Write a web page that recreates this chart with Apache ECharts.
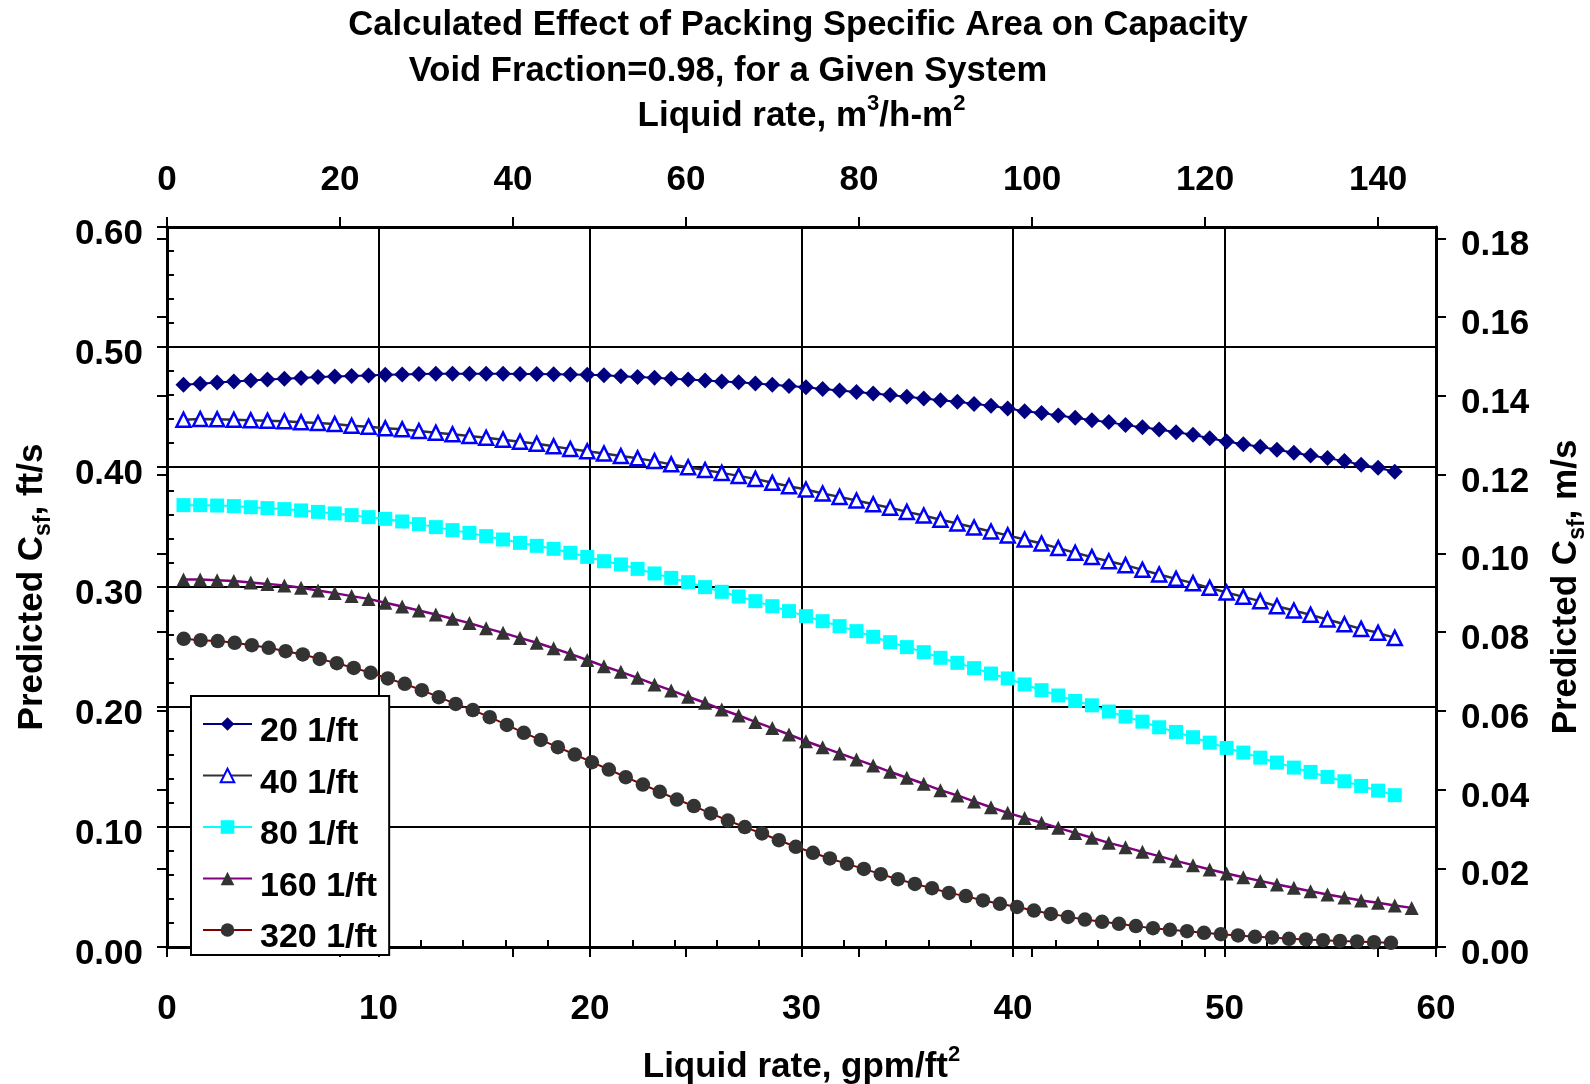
<!DOCTYPE html>
<html><head><meta charset="utf-8">
<script src="https://cdn.jsdelivr.net/npm/echarts@6/dist/echarts.min.js"></script>
<style>html,body{margin:0;padding:0;background:#fff}#c{width:1590px;height:1084px}</style>
</head><body><div id="c"></div>
<script>
const seriesNames = ['20 1/ft', '40 1/ft', '80 1/ft', '160 1/ft', '320 1/ft'];
const xGpm = [0.78,1.57,2.37,3.16,3.96,4.75,5.55,6.34,7.14,7.93,
  8.73,9.53,10.32,11.12,11.91,12.71,13.50,14.30,15.09,15.89,
  16.69,17.48,18.28,19.07,19.87,20.66,21.46,22.25,23.05,23.84,
  24.64,25.44,26.23,27.03,27.82,28.62,29.41,30.21,31.00,31.80,
  32.60,33.39,34.19,34.98,35.78,36.57,37.37,38.16,38.96,39.75,
  40.55,41.35,42.14,42.94,43.73,44.53,45.32,46.12,46.91,47.71,
  48.51,49.30,50.10,50.89,51.69,52.48,53.28,54.07,54.87,55.67,
  56.46,57.26,58.05,58.85];
const xGpm320 = [0.79,1.59,2.40,3.20,4.01,4.81,5.61,6.42,7.22,8.03,
  8.83,9.63,10.44,11.24,12.05,12.85,13.65,14.46,15.26,16.07,
  16.87,17.67,18.48,19.28,20.09,20.89,21.69,22.50,23.30,24.11,
  24.91,25.71,26.52,27.32,28.13,28.93,29.73,30.54,31.34,32.15,
  32.95,33.75,34.56,35.36,36.17,36.97,37.77,38.58,39.38,40.19,
  40.99,41.79,42.60,43.40,44.21,45.01,45.81,46.62,47.42,48.23,
  49.03,49.83,50.64,51.44,52.25,53.05,53.85,54.66,55.46,56.27,
  57.07,57.87];
const y20 = [0.4686,0.4694,0.4705,0.4713,0.4721,0.4730,0.4736,0.4742,0.4749,0.4755,
  0.4758,0.4762,0.4768,0.4771,0.4774,0.4777,0.4778,0.4778,0.4778,0.4777,
  0.4776,0.4774,0.4772,0.4770,0.4768,0.4765,0.4757,0.4751,0.4743,0.4735,
  0.4729,0.4721,0.4713,0.4707,0.4696,0.4685,0.4674,0.4665,0.4651,0.4638,
  0.4626,0.4613,0.4599,0.4585,0.4571,0.4557,0.4543,0.4526,0.4510,0.4488,
  0.4465,0.4451,0.4429,0.4410,0.4390,0.4374,0.4349,0.4332,0.4313,0.4290,
  0.4268,0.4240,0.4213,0.4190,0.4168,0.4143,0.4118,0.4096,0.4074,0.4049,
  0.4018,0.3993,0.3960];
const y40 = [0.4394,0.4400,0.4397,0.4394,0.4389,0.4386,0.4381,0.4372,0.4367,0.4358,
  0.4344,0.4336,0.4322,0.4314,0.4300,0.4286,0.4272,0.4258,0.4244,0.4228,
  0.4211,0.4194,0.4172,0.4150,0.4131,0.4112,0.4091,0.4072,0.4049,0.4022,
  0.3998,0.3975,0.3951,0.3926,0.3901,0.3868,0.3840,0.3813,0.3779,0.3751,
  0.3721,0.3690,0.3660,0.3626,0.3596,0.3560,0.3529,0.3496,0.3463,0.3430,
  0.3396,0.3363,0.3324,0.3285,0.3249,0.3215,0.3182,0.3143,0.3104,0.3068,
  0.3032,0.2993,0.2954,0.2918,0.2882,0.2840,0.2804,0.2768,0.2729,0.2690,
  0.2651,0.2618,0.2576];
const y80 = [0.3682,0.3682,0.3679,0.3674,0.3665,0.3657,0.3649,0.3638,0.3626,0.3613,
  0.3599,0.3582,0.3568,0.3546,0.3524,0.3499,0.3474,0.3451,0.3424,0.3396,
  0.3368,0.3343,0.3318,0.3285,0.3251,0.3215,0.3188,0.3151,0.3113,0.3076,
  0.3040,0.2999,0.2960,0.2921,0.2882,0.2840,0.2799,0.2757,0.2715,0.2674,
  0.2632,0.2585,0.2540,0.2499,0.2457,0.2410,0.2368,0.2324,0.2279,0.2238,
  0.2188,0.2140,0.2096,0.2050,0.2014,0.1962,0.1920,0.1878,0.1831,0.1792,
  0.1748,0.1703,0.1659,0.1620,0.1578,0.1537,0.1495,0.1459,0.1417,0.1381,
  0.1342,0.1303,0.1265];
const y160 = [0.3063,0.3063,0.3057,0.3049,0.3038,0.3026,0.3013,0.2993,0.2971,0.2949,
  0.2924,0.2901,0.2868,0.2838,0.2804,0.2771,0.2735,0.2699,0.2657,0.2618,
  0.2576,0.2535,0.2490,0.2443,0.2392,0.2340,0.2293,0.2243,0.2188,0.2138,
  0.2085,0.2035,0.1979,0.1929,0.1876,0.1824,0.1771,0.1715,0.1665,0.1613,
  0.1563,0.1513,0.1460,0.1410,0.1360,0.1307,0.1263,0.1213,0.1165,0.1118,
  0.1076,0.1035,0.0993,0.0951,0.0910,0.0868,0.0832,0.0793,0.0757,0.0718,
  0.0682,0.0646,0.0613,0.0582,0.0551,0.0521,0.0493,0.0465,0.0438,0.0413,
  0.0388,0.0368,0.0346,0.0326];
const y320 = [0.2568,0.2557,0.2549,0.2535,0.2515,0.2493,0.2465,0.2438,0.2401,0.2365,
  0.2326,0.2285,0.2238,0.2193,0.2140,0.2082,0.2026,0.1974,0.1915,0.1851,
  0.1785,0.1726,0.1665,0.1604,0.1540,0.1479,0.1415,0.1354,0.1293,0.1229,
  0.1174,0.1113,0.1054,0.0999,0.0946,0.0890,0.0835,0.0785,0.0738,0.0693,
  0.0651,0.0607,0.0565,0.0526,0.0490,0.0451,0.0424,0.0388,0.0360,0.0334,
  0.0304,0.0276,0.0251,0.0229,0.0210,0.0193,0.0174,0.0157,0.0143,0.0132,
  0.0118,0.0107,0.0096,0.0085,0.0079,0.0068,0.0063,0.0057,0.0051,0.0046,
  0.0040,0.0035];
const topTicks = [0, 20, 40, 60, 80, 100, 120, 140];
const rightTicks = [0, 0.02, 0.04, 0.06, 0.08, 0.10, 0.12, 0.14, 0.16, 0.18];
const titleLines = ['Calculated Effect of Packing Specific Area on Capacity', 'Void Fraction=0.98, for a Given System'];

const F = '"Liberation Sans", Arial, sans-serif';
const FS = 35;
const blackLine = {color: '#000', width: 2};
const labelStyle = {fontFamily: F, fontWeight: 'bold', fontSize: FS, color: '#000'};
const rich = {
  sup: {fontFamily: F, fontWeight: 'bold', fontSize: 22, color: '#000', verticalAlign: 'top', lineHeight: 22},
  sub: {fontFamily: F, fontWeight: 'bold', fontSize: 23, color: '#000', verticalAlign: 'bottom', lineHeight: 23}
};
const nameStyle = {fontFamily: F, fontWeight: 'bold', fontSize: FS, color: '#000', lineHeight: 46, rich: rich};
const yLabRich = {a: {fontFamily: F, fontWeight: 'bold', fontSize: FS, color: '#000', padding: [15, 0, 0, 0], lineHeight: FS}};
const axisLine = {show: true, onZero: false, lineStyle: {color: '#000', width: 3}};
const fmtY = v => '{a|' + v.toFixed(2) + '}';

const chart = echarts.init(document.getElementById('c'), null, {renderer: 'canvas', width: 1590, height: 1084});
const mk = (arr, xs) => arr.map((v, i) => [xs[i], v]);

chart.setOption({
  animation: false,
  backgroundColor: '#fff',
  grid: {left: 167, top: 227, width: 1269, height: 720, outerBoundsMode: 'none', containLabel: false},
  graphic: [
    {type: 'text', x: 798, y: 25, style: {text: titleLines[0], fontFamily: F, fontWeight: 'bold', fontSize: 34.6, fill: '#000', align: 'center', verticalAlign: 'middle'}},
    {type: 'text', x: 728, y: 71, style: {text: titleLines[1], fontFamily: F, fontWeight: 'bold', fontSize: 34.6, fill: '#000', align: 'center', verticalAlign: 'middle'}}
  ],
  legend: {
    orient: 'vertical', left: 191, top: 696, padding: [3, 12, 0, 11],
    itemWidth: 49, itemHeight: 17, itemGap: 1.5,
    backgroundColor: '#fff', borderColor: '#000', borderWidth: 2,
    selectedMode: false,
    formatter: name => '{t|' + name + '}',
    textStyle: {fontFamily: F, fontWeight: 'bold', fontSize: 34, color: '#000', lineHeight: 34,
      rich: {t: {fontFamily: F, fontWeight: 'bold', fontSize: 34, color: '#000', lineHeight: 34, padding: [16, 0, 0, 3]}}},
    data: seriesNames
  },
  xAxis: [
    {type: 'value', position: 'bottom', min: 0, max: 60, interval: 10, axisLine: axisLine,
     axisTick: {show: true, length: 10, lineStyle: blackLine},
     axisLabel: Object.assign({margin: 45}, labelStyle),
     splitLine: {show: true, lineStyle: blackLine},
     name: 'Liquid rate, gpm/ft{sup|2}', nameLocation: 'middle', nameGap: 97, nameTextStyle: nameStyle, nameMoveOverlap: false},
    {type: 'value', position: 'bottom', min: 0, max: 60, interval: 10, axisLine: {show: false},
     axisTick: {show: true, inside: true, length: 7, lineStyle: blackLine},
     minorTick: {show: true, splitNumber: 5, length: 7, lineStyle: blackLine},
     axisLabel: {show: false}, splitLine: {show: false}},
    {type: 'value', position: 'top', min: 0, max: 146.69, interval: 20, axisLine: axisLine,
     axisTick: {show: true, length: 10, lineStyle: blackLine, customValues: topTicks},
     axisLabel: Object.assign({margin: 29, customValues: topTicks}, labelStyle),
     splitLine: {show: false},
     name: 'Liquid rate, m{sup|3}/h-m{sup|2}', nameLocation: 'middle', nameGap: 88, nameTextStyle: nameStyle, nameMoveOverlap: false},
    {type: 'value', position: 'top', min: 0, max: 146.69, interval: 20, axisLine: {show: false},
     axisTick: {show: true, inside: true, length: 10, lineStyle: blackLine, customValues: topTicks},
     axisLabel: {show: false}, splitLine: {show: false}}
  ],
  yAxis: [
    {type: 'value', position: 'left', min: 0, max: 0.6, interval: 0.1, axisLine: axisLine,
     axisTick: {show: true, length: 10, lineStyle: blackLine},
     axisLabel: Object.assign({margin: 24, formatter: fmtY, rich: yLabRich}, labelStyle),
     splitLine: {show: true, lineStyle: blackLine},
     name: 'Predicted C{sub|sf}, ft/s', nameLocation: 'middle', nameRotate: 90, nameGap: 112, nameTextStyle: nameStyle, nameMoveOverlap: false},
    {type: 'value', position: 'left', min: 0, max: 0.6, interval: 0.1, axisLine: {show: false},
     axisTick: {show: true, inside: true, length: 7, lineStyle: blackLine},
     minorTick: {show: true, splitNumber: 5, length: 7, lineStyle: blackLine},
     axisLabel: {show: false}, splitLine: {show: false}},
    {type: 'value', position: 'right', min: 0, max: 0.18288, interval: 0.02, axisLine: axisLine,
     axisTick: {show: true, length: 10, lineStyle: blackLine, customValues: rightTicks},
     axisLabel: Object.assign({margin: 25, formatter: fmtY, rich: yLabRich, customValues: rightTicks}, labelStyle),
     splitLine: {show: false},
     name: 'Predicted C{sub|sf}, m/s', nameLocation: 'middle', nameRotate: 90, nameGap: 107, nameTextStyle: nameStyle, nameMoveOverlap: false},
    {type: 'value', position: 'right', min: 0, max: 0.18288, interval: 0.02, axisLine: {show: false},
     axisTick: {show: true, inside: true, length: 10, lineStyle: blackLine, customValues: rightTicks},
     axisLabel: {show: false}, splitLine: {show: false}}
  ],
  series: [
    {name: seriesNames[0], type: 'line', data: mk(y20, xGpm), symbol: 'diamond', symbolSize: 16, showSymbol: true,
     lineStyle: {color: '#000080', width: 2}, itemStyle: {color: '#000080'}, emphasis: {disabled: true}},
    {name: seriesNames[1], type: 'line', data: mk(y40, xGpm), symbol: 'triangle', symbolSize: 14, showSymbol: true,
     lineStyle: {color: '#333333', width: 2.5}, itemStyle: {color: '#ffffff', borderColor: '#0000ff', borderWidth: 2.5}, emphasis: {disabled: true}},
    {name: seriesNames[2], type: 'line', data: mk(y80, xGpm), symbol: 'rect', symbolSize: 14, showSymbol: true,
     lineStyle: {color: '#00ffff', width: 2}, itemStyle: {color: '#00ffff'}, emphasis: {disabled: true}},
    {name: seriesNames[3], type: 'line', data: mk(y160, xGpm), symbol: 'triangle', symbolSize: 14, showSymbol: true,
     lineStyle: {color: '#800080', width: 2.5}, itemStyle: {color: '#333333'}, emphasis: {disabled: true}},
    {name: seriesNames[4], type: 'line', data: mk(y320, xGpm320), symbol: 'circle', symbolSize: 14.5, showSymbol: true,
     lineStyle: {color: '#800000', width: 2}, itemStyle: {color: '#333333'}, emphasis: {disabled: true}}
  ]
});
</script></body></html>
